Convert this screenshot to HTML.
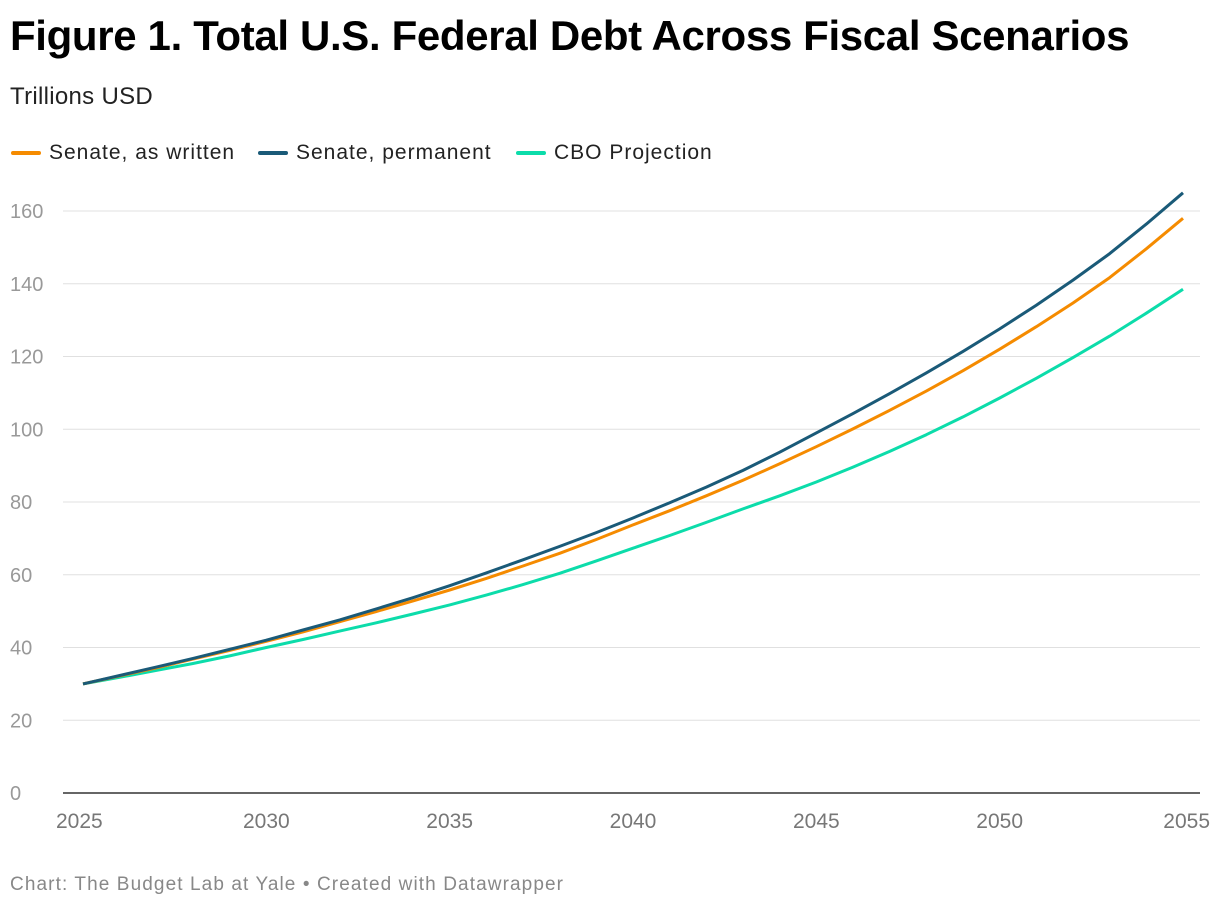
<!DOCTYPE html>
<html><head><meta charset="utf-8"><style>
body{margin:0;background:#fff;font-family:"Liberation Sans",sans-serif;width:1220px;height:910px;overflow:hidden;position:relative}
.t{position:absolute;left:10px;top:12px;font-size:42px;font-weight:bold;color:#000;letter-spacing:-0.35px;margin:0}
.s{position:absolute;left:10px;top:83px;font-size:24px;color:#222;letter-spacing:0.3px}
.lg{position:absolute;top:141px;font-size:21px;color:#222;display:flex;align-items:center;letter-spacing:1px}
.lg i{display:inline-block;width:30px;height:4px;border-radius:2px;margin-right:8px}
.f{position:absolute;left:10px;top:874px;font-size:19px;color:#888;letter-spacing:1.1px}
svg{position:absolute;left:0;top:0}
</style></head><body>
<h1 class="t">Figure 1. Total U.S. Federal Debt Across Fiscal Scenarios</h1>
<div class="s">Trillions USD</div>
<div class="lg" style="left:11px"><i style="background:#f58b00"></i>Senate, as written</div>
<div class="lg" style="left:258px"><i style="background:#1a5a78"></i>Senate, permanent</div>
<div class="lg" style="left:516px"><i style="background:#0cdcaa"></i>CBO Projection</div>
<svg id="c" width="1220" height="910"></svg>
<div class="f">Chart: The Budget Lab at Yale • Created with Datawrapper</div>
<script>
const years=[2025,2026,2027,2028,2029,2030,2031,2032,2033,2034,2035,2036,2037,2038,2039,2040,2041,2042,2043,2044,2045,2046,2047,2048,2049,2050,2051,2052,2053,2054,2055];
const senateWritten=[30,32.2,34.4,36.8,39.2,41.7,44.3,47.1,49.9,52.8,55.8,59.0,62.4,65.9,69.7,73.7,77.6,81.7,86.0,90.5,95.2,100.1,105.2,110.5,116.1,122.0,128.2,134.7,141.7,149.6,158.0];
const senatePermanent=[30,32.3,34.6,37.0,39.5,42.0,44.8,47.6,50.6,53.7,57.0,60.5,64.1,67.8,71.6,75.6,79.8,84.1,88.7,93.7,99.0,104.3,109.8,115.5,121.4,127.6,134.1,141.0,148.3,156.4,165.0];
const cbo=[30,31.8,33.7,35.6,37.7,40.0,42.2,44.5,46.8,49.2,51.7,54.4,57.3,60.4,63.8,67.3,70.8,74.4,78.1,81.7,85.5,89.6,93.9,98.5,103.4,108.6,114.0,119.7,125.6,131.9,138.5];
const yTicks=[0,20,40,60,80,100,120,140,160];
const xTicks=[2025,2030,2035,2040,2045,2050,2055];
const NS='http://www.w3.org/2000/svg',svg=document.getElementById('c');
const X=v=>83+(v-2025)*(1100/30), Y=v=>793-v*(582/160);
function mk(t,a){const e=document.createElementNS(NS,t);for(const k in a)e.setAttribute(k,a[k]);svg.appendChild(e);return e;}
yTicks.forEach(v=>{
 const l=mk('line',{x1:63,x2:1200,y1:Y(v),y2:Y(v),stroke:v?'#e0e0e0':'#333','stroke-width':v?1:1.5});
 
 
 const t=mk('text',{x:10,y:Y(v)+7,fill:'#999','font-size':20,'font-family':'Liberation Sans, sans-serif'});t.textContent=v;
 
 
});
xTicks.forEach((v,i)=>{
 const t=mk('text',{x:X(v),y:828,fill:'#777','font-size':21,'font-family':'Liberation Sans, sans-serif','text-anchor':i==0?'start':i==xTicks.length-1?'end':'middle'});
 if(i==0)t.setAttribute('x',56);if(i==xTicks.length-1)t.setAttribute('x',1210);
 t.textContent=v;
 
 
});
[[cbo,'#0cdcaa','line-cbo'],[senateWritten,'#f58b00','line-senate-written'],[senatePermanent,'#1a5a78','line-senate-permanent']].forEach(([d,c,n])=>{
 const p=mk('path',{d:d.map((v,i)=>(i?'L':'M')+X(years[i]).toFixed(1)+','+Y(v).toFixed(1)).join(''),fill:'none',stroke:c,'stroke-width':3,'stroke-linejoin':'round'});
 
 
});
</script>
</body></html>
